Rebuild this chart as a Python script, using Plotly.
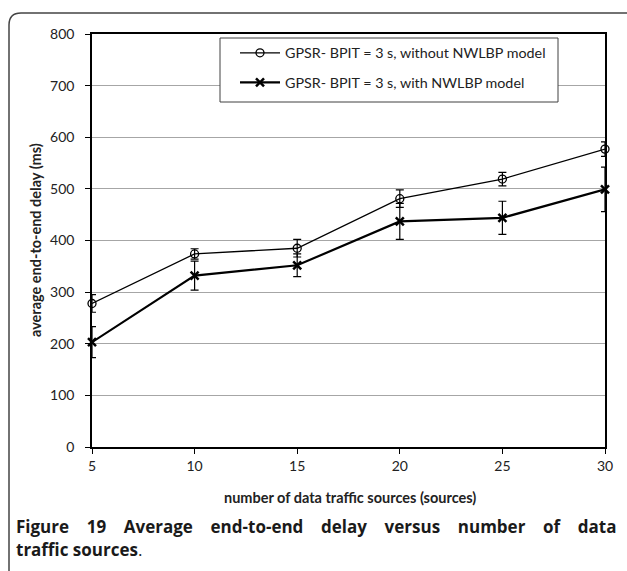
import plotly.graph_objects as go

sources = [5, 10, 15, 20, 25, 30]
delay_without = [278, 374, 385, 481, 519, 577]
err_without = [17, 10, 17, 17, 13, 14]
delay_with = [203, 332, 352, 437, 444, 499]
err_with = [30, 28, 22, 35, 32, 43]
y_ticks = [0, 100, 200, 300, 400, 500, 600, 700, 800]
x_ticks = [5, 10, 15, 20, 25, 30]
series_names = ["GPSR- BPIT = 3 s, without NWLBP model", "GPSR- BPIT = 3 s, with NWLBP model"]
caption_words = ["Figure", "19", "Average", "end-to-end", "delay", "versus", "number", "of", "data"]

W, H = 627, 571
L, R, T, B = 92, 605, 34, 447
pw, ph = R - L, B - T


def px(x):
    return (x - L) / pw


def py(y):
    return (B - y) / ph


FONT = "Lato, Liberation Sans, sans-serif"
tick_font = dict(family=FONT, size=14, color="#222")

fig = go.Figure()
fig.add_trace(go.Scatter(
    x=sources, y=delay_without, name=series_names[0], legendgroup="a",
    mode="lines+markers",
    line=dict(color="black", width=1.3),
    marker=dict(symbol="circle-open", size=8, color="black", line=dict(width=1.3)),
    error_y=dict(type="data", array=err_without, visible=True, color="black", thickness=1.2, width=4),
    cliponaxis=False,
))
fig.add_trace(go.Scatter(
    x=sources, y=delay_with, name=series_names[1], legendgroup="b",
    mode="lines+markers",
    line=dict(color="black", width=2.2),
    marker=dict(symbol="x-thin", size=8, color="black", line=dict(width=2.5, color="black")),
    error_y=dict(type="data", array=err_with, visible=True, color="black", thickness=1.2, width=4),
    cliponaxis=False,
))

fig.update_layout(
    width=W, height=H,
    margin=dict(l=L, r=W - R, t=T, b=H - B, autoexpand=False),
    paper_bgcolor="white", plot_bgcolor="white",
    showlegend=True,
    legend=dict(
        x=px(235), y=py(37), xanchor="left", yanchor="top",
        bgcolor="rgba(0,0,0,0)", borderwidth=0,
        font=dict(family=FONT, size=14.3, color="#222"),
        itemwidth=40, tracegroupgap=8, traceorder="grouped",
    ),
    xaxis=dict(
        range=[5, 30], tickvals=x_ticks, ticktext=[str(v) for v in x_ticks],
        showgrid=False, zeroline=False,
        showline=True, linecolor="black", linewidth=1.5, mirror=True,
        ticks="outside", ticklen=5, tickcolor="black", tickwidth=1,
        tickfont=tick_font,
    ),
    yaxis=dict(
        range=[0, 800], tickvals=y_ticks, ticktext=[str(v) for v in y_ticks],
        showgrid=True, gridcolor="#a6a6a6", gridwidth=1.2, zeroline=False,
        showline=True, linecolor="black", linewidth=1.5, mirror=True,
        ticks="outside", ticklen=5, tickcolor="black", tickwidth=1,
        tickfont=tick_font, ticklabelstandoff=8,
    ),
)

# legend frame (opaque, hides gridlines)
fig.add_shape(
    type="rect", xref="paper", yref="paper",
    x0=px(220), x1=px(558), y0=py(38), y1=py(102),
    fillcolor="white", line=dict(color="#404040", width=1), layer="above",
)

# outer rounded frame (cropped at right and bottom)
x0, y0 = px(9), py(13)
x1, y1 = px(660), py(620)
rx, ry = 12 / pw, 12 / ph
fig.add_shape(
    type="path", xref="paper", yref="paper",
    path=(f"M {x0} {y1} L {x0} {y0 - ry} Q {x0} {y0} {x0 + rx} {y0} "
          f"L {x1} {y0}"),
    line=dict(color="#444", width=1.5),
)

# axis titles
fig.add_annotation(
    text="<b>average end-to-end delay (ms)</b>", xref="paper", yref="paper",
    x=px(35), y=py(240), textangle=-90, showarrow=False,
    xanchor="center", yanchor="middle",
    font=dict(family=FONT, size=14.5, color="#222"),
)
fig.add_annotation(
    text="<b>number of data traffic sources (sources)</b>", xref="paper", yref="paper",
    x=px(350), y=py(497), showarrow=False, xanchor="center", yanchor="middle",
    font=dict(family=FONT, size=14.5, color="#222"),
)

# caption (first line justified)
cap_font = dict(family="Open Sans, Noto Sans, sans-serif", size=17, color="#1a1a1a")
gap = "\u00a0" * 4
fig.add_annotation(
    text="<b>" + gap.join(caption_words) + "</b>",
    xref="paper", yref="paper", x=px(14), y=py(526), xanchor="left", yanchor="middle",
    showarrow=False, font=cap_font,
)
fig.add_annotation(
    text="<b>traffic sources</b>.",
    xref="paper", yref="paper", x=px(14), y=py(549), xanchor="left", yanchor="middle",
    showarrow=False, font=cap_font,
)

fig.write_html("out.html", config={"displayModeBar": False},
               post_script="document.body.style.margin='0px';")
